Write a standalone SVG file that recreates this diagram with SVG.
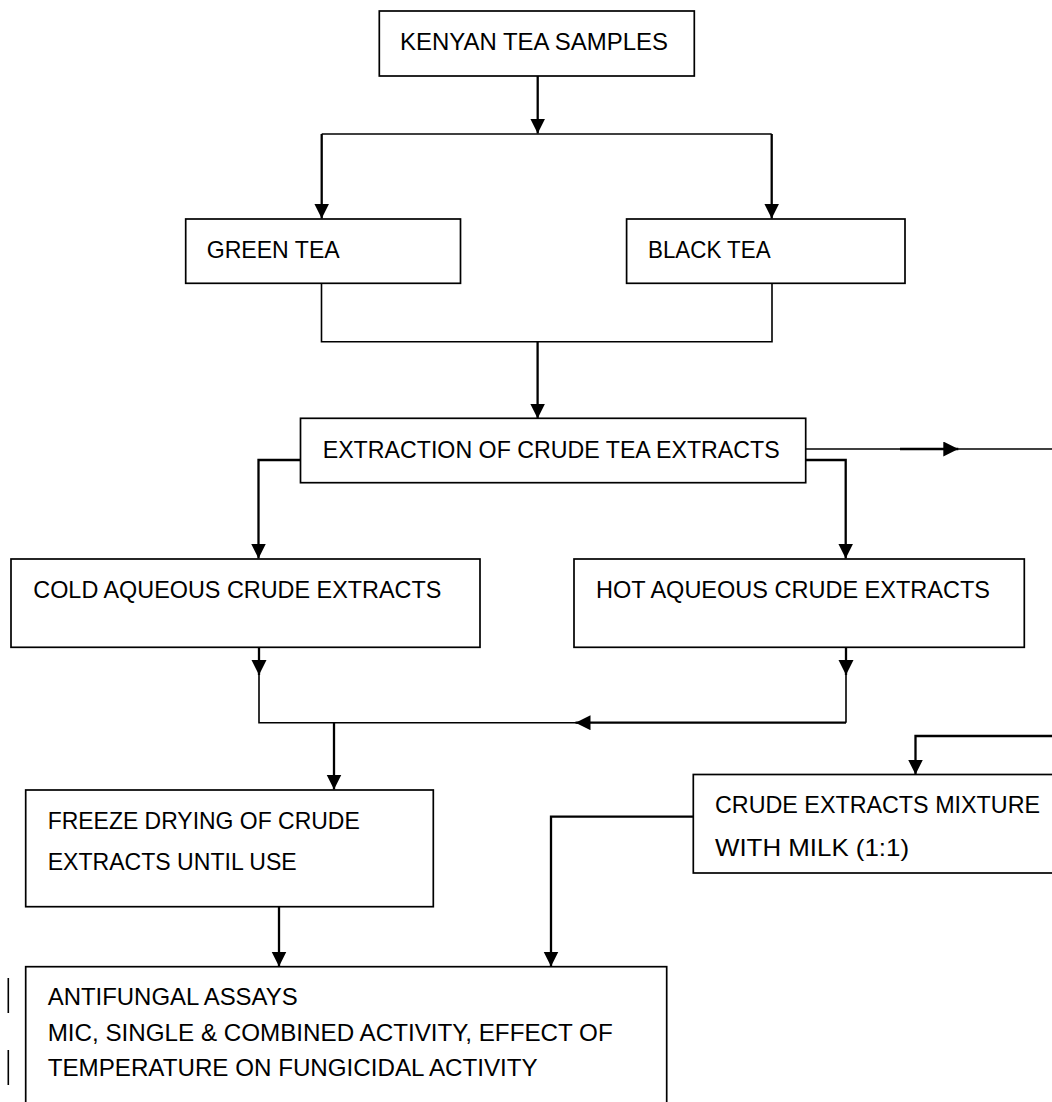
<svg xmlns="http://www.w3.org/2000/svg" width="1052" height="1102" viewBox="0 0 1052 1102">
<style>
.box{fill:#fff;stroke:#000;stroke-width:1.7}
.t{font-family:"Liberation Sans",Arial,sans-serif;font-size:24px;fill:#000}
.c{fill:none;stroke:#000;stroke-width:1.6}
.a{fill:none;stroke:#000;stroke-width:2.3}
</style>
<defs>
<marker id="ah" markerUnits="userSpaceOnUse" markerWidth="16" markerHeight="16" refX="15" refY="7.5" orient="auto">
<path d="M0,0 L15,7.5 L0,15 z" fill="#000"/>
</marker>
</defs>
<rect width="1052" height="1102" fill="#fff"/>
<g id="connectors">
<path class="a" d="M537.7,76 V133.5" marker-end="url(#ah)"/>
<path class="c" d="M321.7,134 H771.7"/>
<path class="a" d="M321.7,134 V218.5" marker-end="url(#ah)"/>
<path class="a" d="M771.7,134 V218.5" marker-end="url(#ah)"/>
<path class="c" d="M321.5,283 V341.7 H772 V283"/>
<path class="a" d="M537.6,341.7 V418.5" marker-end="url(#ah)"/>
<path class="a" d="M300.5,460 H258.5 V558.5" marker-end="url(#ah)"/>
<path class="a" d="M805.7,460 H845.7 V558.5" marker-end="url(#ah)"/>
<path class="c" d="M805.7,449 H1052"/>
<path class="a" d="M900,449 H958.3" marker-end="url(#ah)"/>
<path class="a" d="M259,647.3 V675" marker-end="url(#ah)"/>
<path class="c" d="M259,675 V722.7 H580"/>
<path class="a" d="M846,647.3 V675" marker-end="url(#ah)"/>
<path class="c" d="M846,675 V722.7"/>
<path class="a" d="M846,722.7 H575.5" marker-end="url(#ah)"/>
<path class="a" d="M334,722.7 V789.5" marker-end="url(#ah)"/>
<path class="a" d="M279,906.7 V966.5" marker-end="url(#ah)"/>
<path class="a" d="M1052,736 H915.5 V774.5" marker-end="url(#ah)"/>
<path class="a" d="M693.3,816.7 H551 V966.5" marker-end="url(#ah)"/>
<path class="c" d="M8.3,978 V1013 M8.3,1050 V1085"/>
</g>
<g id="kenyan">
<rect class="box" x="379.3" y="11" width="315" height="65"/>
<text class="t" x="400" y="50" textLength="268" lengthAdjust="spacingAndGlyphs">KENYAN TEA SAMPLES</text>
</g>
<g id="green">
<rect class="box" x="185.7" y="219" width="274.8" height="64.3"/>
<text class="t" x="206.7" y="258.3" textLength="133" lengthAdjust="spacingAndGlyphs">GREEN TEA</text>
</g>
<g id="black">
<rect class="box" x="626.6" y="219" width="278.4" height="64.3"/>
<text class="t" x="648" y="258.3" textLength="122.6" lengthAdjust="spacingAndGlyphs">BLACK TEA</text>
</g>
<g id="extraction">
<rect class="box" x="300.5" y="418.3" width="505.2" height="64.4"/>
<text class="t" x="322.7" y="457.5" textLength="457" lengthAdjust="spacingAndGlyphs">EXTRACTION OF CRUDE TEA EXTRACTS</text>
</g>
<g id="cold">
<rect class="box" x="11" y="559" width="469" height="88.3"/>
<text class="t" x="33.3" y="598.3" textLength="408" lengthAdjust="spacingAndGlyphs">COLD AQUEOUS CRUDE EXTRACTS</text>
</g>
<g id="hot">
<rect class="box" x="574" y="559" width="450.3" height="88.3"/>
<text class="t" x="596" y="598.3" textLength="394" lengthAdjust="spacingAndGlyphs">HOT AQUEOUS CRUDE EXTRACTS</text>
</g>
<g id="freeze">
<rect class="box" x="25.7" y="790" width="407.6" height="116.7"/>
<text class="t" x="47.7" y="829" textLength="312" lengthAdjust="spacingAndGlyphs">FREEZE DRYING OF CRUDE</text>
<text class="t" x="47.7" y="870" textLength="249" lengthAdjust="spacingAndGlyphs">EXTRACTS UNTIL USE</text>
</g>
<g id="mixture">
<rect class="box" x="693.3" y="774.5" width="380" height="98.5"/>
<text class="t" x="715" y="813" textLength="325" lengthAdjust="spacingAndGlyphs">CRUDE EXTRACTS MIXTURE</text>
<text class="t" x="715" y="856" textLength="194" lengthAdjust="spacingAndGlyphs">WITH MILK (1:1)</text>
</g>
<g id="antifungal">
<rect class="box" x="25.7" y="966.7" width="641" height="160"/>
<text class="t" x="47.7" y="1005" textLength="250" lengthAdjust="spacingAndGlyphs">ANTIFUNGAL ASSAYS</text>
<text class="t" x="47.7" y="1040.5" textLength="565" lengthAdjust="spacingAndGlyphs">MIC, SINGLE &amp; COMBINED ACTIVITY, EFFECT OF</text>
<text class="t" x="47.7" y="1076" textLength="490" lengthAdjust="spacingAndGlyphs">TEMPERATURE ON FUNGICIDAL ACTIVITY</text>
</g>
</svg>
